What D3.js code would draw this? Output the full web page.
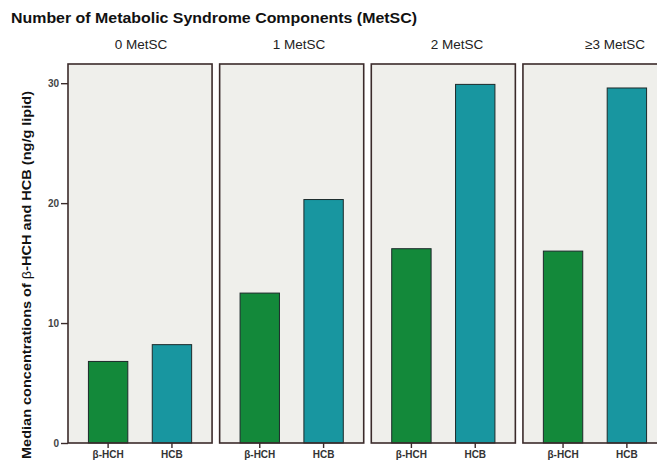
<!DOCTYPE html>
<html>
<head>
<meta charset="utf-8">
<script src="https://cdn.jsdelivr.net/npm/d3@7"></script>
<style>
  html, body { margin: 0; padding: 0; background: #ffffff; }
  svg { display: block; }
  text { font-family: "Liberation Sans", Arial, sans-serif; }
</style>
</head>
<body>
<svg id="chart" width="657" height="460"></svg>
<script>
// Facets: number of metabolic syndrome components
const groups = ["0 MetSC", "1 MetSC", "2 MetSC", "\u22653 MetSC"];
// Compounds shown inside every facet
const compounds = ["\u03B2-HCH", "HCB"];
// Median concentrations (ng/g lipid), one array per compound, in facet order
const betaHCH = [6.8, 12.5, 16.2, 16.0];
const hcb = [8.2, 20.3, 29.9, 29.6];
const yTicks = [0, 10, 20, 30];

const colors = { "\u03B2-HCH": "#13893a", "HCB": "#1896a0" };

const svg = d3.select("#chart");

const plotTop = 64, plotBottom = 443;
const y = d3.scaleLinear().domain([0, 31.6]).range([plotBottom, plotTop]);

// Panels side by side; the last one runs past the right edge
const facet = d3.scaleBand().domain(groups).range([68, 667]).paddingInner(0.05);
// Strip labels sit on their own, slightly wider spacing
const strip = d3.scaleBand().domain(groups).range([62, 694]);
const x = d3.scaleBand().domain(compounds).range([0, facet.bandwidth()])
  .paddingInner(0.383).paddingOuter(0.32);

const rows = groups.map((g, i) => ({ group: g, values: [
  { key: compounds[0], value: betaHCH[i] },
  { key: compounds[1], value: hcb[i] }
]}));

// Title
svg.append("text")
  .attr("x", 11).attr("y", 23)
  .attr("font-size", 14).attr("font-weight", "bold").attr("fill", "#111")
  .attr("textLength", 406).attr("lengthAdjust", "spacingAndGlyphs")
  .text("Number of Metabolic Syndrome Components (MetSC)");

// Strip labels
svg.selectAll("text.strip").data(groups).join("text")
  .attr("class", "strip")
  .attr("x", d => strip(d) + strip.bandwidth() / 2).attr("y", 49)
  .attr("text-anchor", "middle")
  .attr("font-size", 13.5).attr("fill", "#222")
  .text(d => d);

// Y-axis title
const yTitle = svg.append("text")
  .attr("transform", "translate(31,275) rotate(-90)")
  .attr("text-anchor", "middle")
  .attr("font-size", 13.5).attr("font-weight", "bold").attr("fill", "#111")
  .attr("textLength", 368).attr("lengthAdjust", "spacingAndGlyphs");
yTitle.append("tspan").text("Median concentrations of ");
yTitle.append("tspan").attr("font-weight", "normal").text("\u03B2");
yTitle.append("tspan").text("-HCH and HCB (ng/g lipid)");

const panels = svg.selectAll("g.panel").data(rows).join("g")
  .attr("class", "panel")
  .attr("transform", d => `translate(${facet(d.group)},0)`);

// Panel background
panels.append("rect")
  .attr("x", 0).attr("y", plotTop)
  .attr("width", facet.bandwidth()).attr("height", plotBottom - plotTop)
  .attr("fill", "#efefeb");

// Bars
panels.selectAll("rect.bar").data(d => d.values).join("rect")
  .attr("class", "bar")
  .attr("x", d => x(d.key))
  .attr("width", x.bandwidth())
  .attr("y", d => y(d.value))
  .attr("height", d => y(0) - y(d.value))
  .attr("fill", d => colors[d.key])
  .attr("stroke", "#1c2a2a").attr("stroke-width", 1);

// Panel frame
panels.append("rect")
  .attr("x", 0).attr("y", plotTop)
  .attr("width", facet.bandwidth()).attr("height", plotBottom - plotTop)
  .attr("fill", "none").attr("stroke", "#3b2b2b").attr("stroke-width", 1.6);

// Bottom axis for each panel
panels.append("g")
  .attr("transform", `translate(0,${plotBottom})`)
  .call(d3.axisBottom(x).tickSize(5).tickPadding(3))
  .call(g => g.select(".domain").remove())
  .call(g => g.selectAll("line").attr("stroke", "#3b2b2b").attr("stroke-width", 1.4))
  .call(g => g.selectAll("text")
    .attr("font-size", 10).attr("font-weight", "bold").attr("fill", "#333")
    .attr("font-family", "'Liberation Sans', Arial, sans-serif"));

// Left axis
svg.append("g")
  .attr("transform", `translate(${facet(groups[0])},0)`)
  .call(d3.axisLeft(y).tickValues(yTicks).tickSize(7).tickPadding(2).tickFormat(d3.format("d")))
  .call(g => g.select(".domain").remove())
  .call(g => g.selectAll("line").attr("stroke", "#3b2b2b").attr("stroke-width", 1.4))
  .call(g => g.selectAll("text")
    .attr("font-size", 10).attr("font-weight", "bold").attr("fill", "#444")
    .attr("font-family", "'Liberation Sans', Arial, sans-serif"));
</script>
</body>
</html>
